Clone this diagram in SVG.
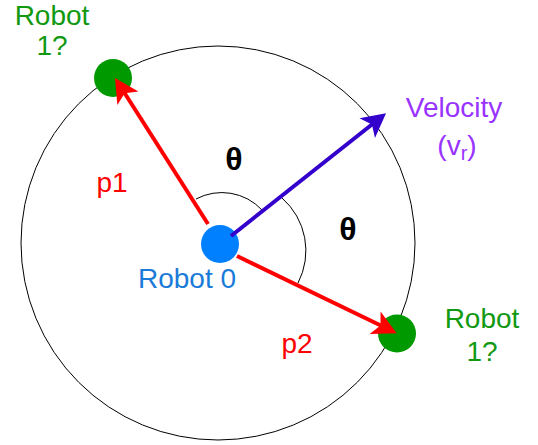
<svg xmlns="http://www.w3.org/2000/svg" width="538" height="445" viewBox="0 0 538 445">
<style>
  text { font-family: "Liberation Sans", Arial, Helvetica, sans-serif; font-size: 28px; text-anchor: middle; }
  .green { fill: #119911; }
  .red { fill: #FF0000; }
  .purple { fill: #9933FF; }
  .blue { fill: #1A7BD9; }
  .theta { fill: #000000; font-weight: bold; font-size: 32px; }
  .edge { fill: none; stroke-width: 4; }
  .thin { fill: none; stroke: #000000; stroke-width: 1; }
</style>
<defs>
  <marker id="ahRed" markerUnits="userSpaceOnUse" markerWidth="30" markerHeight="30" viewBox="-2 -15 30 30" refX="8" refY="0" orient="auto" overflow="visible">
    <path d="M0,-12.5 L24,0 L0,12.5 L6,0 Z" fill="#FF0000"/>
  </marker>
  <marker id="ahBlue" markerUnits="userSpaceOnUse" markerWidth="30" markerHeight="30" viewBox="-2 -15 30 30" refX="8" refY="0" orient="auto" overflow="visible">
    <path d="M0,-12.5 L24,0 L0,12.5 L6,0 Z" fill="#3300CC"/>
  </marker>
</defs>
<rect width="538" height="445" fill="#FFFFFF"/>
<g id="range-circle">
  <circle cx="218" cy="243" r="197" class="thin"/>
</g>
<g id="robot1-top">
  <circle cx="113" cy="78" r="19" fill="#009900"/>
  <text class="green" x="52" y="25">Robot</text>
  <text class="green" x="52" y="55">1?</text>
</g>
<g id="robot1-right">
  <circle cx="397" cy="333.5" r="19" fill="#009900"/>
  <text class="green" x="482" y="328">Robot</text>
  <text class="green" x="482" y="361">1?</text>
</g>
<g id="robot0">
  <circle cx="220" cy="244" r="19" fill="#007FFF"/>
  <text class="blue" x="187" y="288">Robot 0</text>
</g>
<g id="velocity-label">
  <text class="purple" x="454" y="117">Velocity</text>
  <text class="purple" x="457" y="155">(v<tspan font-size="20" dy="5">r</tspan><tspan dy="-5">)</tspan></text>
</g>
<g id="angles">
  <path class="thin" d="M196,199 A55,55 0 0 1 262,210"/>
  <path class="thin" d="M282,198 A70,70 0 0 1 298,283"/>
  <text class="theta" x="234" y="170">θ</text>
  <text class="theta" x="348" y="240">θ</text>
</g>
<g id="connectors">
  <line class="edge" x1="208" y1="224" x2="123.6" y2="91.5" stroke="#FF0000" marker-end="url(#ahRed)"/>
  <line class="edge" x1="237" y1="256" x2="382.3" y2="326.3" stroke="#FF0000" marker-end="url(#ahRed)"/>
  <line class="edge" x1="231" y1="236" x2="373.5" y2="123.2" stroke="#3300CC" marker-end="url(#ahBlue)"/>
  <text class="red" x="112" y="192">p1</text>
  <text class="red" x="297" y="353">p2</text>
</g>
</svg>
